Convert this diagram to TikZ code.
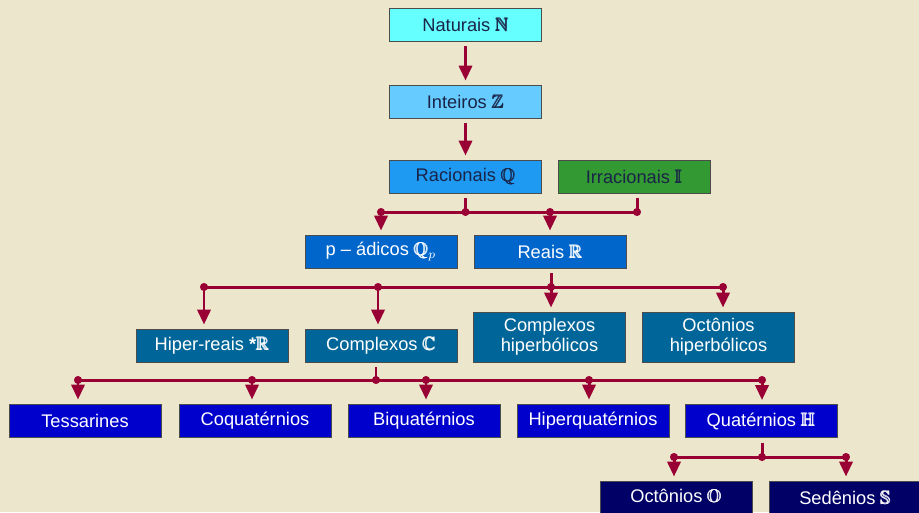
\documentclass[tikz,border=0pt]{standalone}
\usepackage{amsmath,amsfonts,amssymb}
\usepackage{fontspec}
\setmainfont{Liberation Sans}
\usepackage{xcolor}
\usetikzlibrary{arrows.meta}

\definecolor{fundo}{HTML}{ECE6CC}
\definecolor{vinho}{HTML}{990033}
\definecolor{ciano}{HTML}{66FFFF}
\definecolor{celeste}{HTML}{66CCFF}
\definecolor{azulrac}{HTML}{1E9AF2}
\definecolor{verde}{HTML}{339933}
\definecolor{azulmed}{HTML}{0066CC}
\definecolor{azulpet}{HTML}{006699}
\definecolor{azulforte}{HTML}{0000CC}
\definecolor{marinho}{HTML}{000066}
\definecolor{textoesc}{HTML}{1A2448}

\newcommand{\cjto}[1]{\pmb{\mathbb{#1}}}

\begin{document}
\begin{tikzpicture}[x=0.02cm,y=-0.02cm,
		caixa/.style={draw=black!70, line width=0.5pt, minimum width=3.04cm, minimum height=0.66cm,
			inner sep=1pt, align=center, text=white, font=\fontsize{10.4}{11.6}\selectfont},
		caixa alta/.style={caixa, minimum height=1cm},
		seta/.style={draw=vinho, line width=1.7pt, -{Triangle[width=7.5pt,length=8.5pt]}, shorten >=2.3pt},
		haste/.style={draw=vinho, line width=1.7pt, shorten <=2.8pt},
		barra/.style={draw=vinho, line width=1.7pt}]
					% Fundo
					\fill[fundo] (0,0) rectangle (919,512);
					\useasboundingbox (0,0) rectangle (919,512);
					
					% Caixas
					\node[caixa, fill=ciano, text=textoesc] (nat) at (465.5,24.5) {Naturais $\cjto{N}$};
					\node[caixa, fill=celeste, text=textoesc] (int) at (465.5,101.5) {Inteiros $\cjto{Z}$};
					\node[caixa, fill=azulrac, text=textoesc] (rac) at (465.5,176.5) {Racionais $\cjto{Q}$};
					\node[caixa, fill=verde, text=textoesc] (irr) at (634,176.5) {Irracionais $\cjto{I}$};
					\node[caixa, fill=azulmed] (pad) at (381,251.5) {p -- ádicos $\cjto{Q}_p$};
					\node[caixa, fill=azulmed] (rea) at (550,251.5) {Reais $\cjto{R}$};
					\node[caixa, fill=azulpet] (hre) at (212,345.5) {Hiper-reais \textbf{*}$\cjto{R}$};
					\node[caixa, fill=azulpet] (cpx) at (381,345.5) {Complexos $\cjto{C}$};
					\node[caixa alta, fill=azulpet] (chb) at (549.5,337) {Complexos\\hiperbólicos};
					\node[caixa alta, fill=azulpet] (ohb) at (718.5,337) {Octônios\\hiperbólicos};
					\node[caixa, fill=azulforte] (tes) at (85,420.5) {Tessarines};
					\node[caixa, fill=azulforte] (coq) at (255,420.5) {Coquatérnios};
					\node[caixa, fill=azulforte] (biq) at (424,420.5) {Biquatérnios};
					\node[caixa, fill=azulforte] (hpq) at (593,420.5) {Hiperquatérnios};
					\node[caixa, fill=azulforte] (qua) at (761,421) {Quatérnios $\cjto{H}$};
					\node[caixa, fill=marinho] (oct) at (676,497.5) {Octônios $\cjto{O}$};
					\node[caixa, fill=marinho] (sed) at (845,497.5) {Sedênios $\cjto{S}$};
					
					% Setas simples
					\draw[seta, shorten <=2.8pt] (nat) -- (int);
					\draw[seta, shorten <=2.8pt] (int) -- (rac);
					
					% Racionais e irracionais -> p-adicos e reais
					\coordinate (b1) at (0,212);
					\coordinate (j14) at (637,212);
					\draw[haste] (rac) -- (rac |- b1);
					\draw[haste] (irr.south -| j14) -- (j14);
					\draw[barra] (pad |- b1) -- (j14);
					\foreach \n in {pad,rea} {
						\draw[seta] (\n |- b1) -- (\n);
					}
					\foreach \n in {pad,rac,rea} {
						\fill[vinho] (\n |- b1) circle (2.3pt);
					}
					\fill[vinho] (j14) circle (2.3pt);
					
					% Reais -> segunda linha
					\coordinate (j21) at (204,287);
					\coordinate (j22) at (378,287);
					\coordinate (j23) at (551,287);
					\coordinate (j24) at (723,287);
					\draw[haste] (rea.south -| j23) -- (j23);
					\draw[barra] (j21) -- (j24);
					\foreach \j/\n in {j21/hre,j22/cpx,j23/chb,j24/ohb} {
						\draw[seta] (\j) -- (\n.north -| \j);
						\fill[vinho] (\j) circle (2.3pt);
					}
					
					% Complexos -> terceira linha
					\coordinate (j31) at (78,380);
					\coordinate (j32) at (252,380);
					\coordinate (j33) at (376,380);
					\coordinate (j34) at (426,380);
					\coordinate (j35) at (589,380);
					\coordinate (j36) at (762,380);
					\draw[haste] (cpx.south -| j33) -- (j33);
					\draw[barra] (j31) -- (j36);
					\foreach \j/\n in {j31/tes,j32/coq,j34/biq,j35/hpq,j36/qua} {
						\draw[seta] (\j) -- (\n.north -| \j);
					}
					\foreach \j in {j31,j32,j33,j34,j35,j36} {
						\fill[vinho] (\j) circle (2.3pt);
					}
					
					% Quaternios -> octonios e sedenios
					\coordinate (j41) at (674,457);
					\coordinate (j42) at (762,457);
					\coordinate (j43) at (846,457);
					\draw[haste] (qua.south -| j42) -- (j42);
					\draw[barra] (j41) -- (j43);
					\foreach \j/\n in {j41/oct,j43/sed} {
						\draw[seta] (\j) -- (\n.north -| \j);
					}
					\foreach \j in {j41,j42,j43} {
						\fill[vinho] (\j) circle (2.3pt);
					}
				\end{tikzpicture}
\end{document}
